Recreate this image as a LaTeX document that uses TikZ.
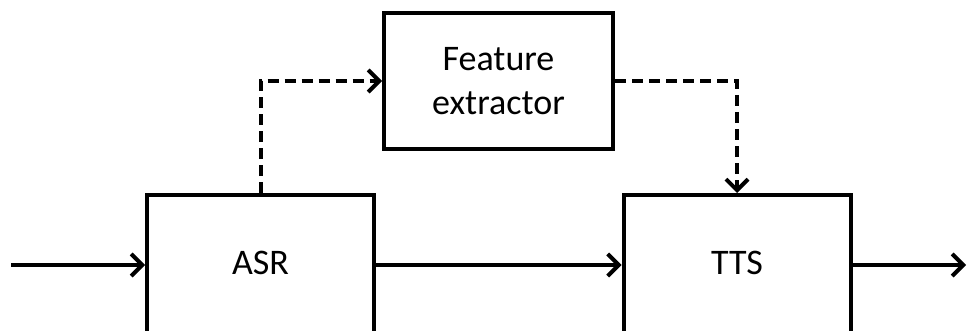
\documentclass[tikz,border=0pt]{standalone}
\usepackage{fontspec}
\setmainfont{Carlito}
\usetikzlibrary{arrows.meta}

\begin{document}
\begin{tikzpicture}[x=1pt, y=1pt,
    block/.style={draw, line width=4pt, minimum width=227pt, minimum height=140pt,
        align=center, font=\fontsize{36}{44}\selectfont},
    flow/.style={line width=4pt, -{Straight Barb[length=11pt, width=22pt]}},
    side/.style={flow, dash pattern=on 11pt off 6pt}]
    \useasboundingbox (0,0) rectangle (967,330);

    \node[block, text depth=4pt] (asr) at (260.5,65) {ASR};
    \node[block, text depth=4pt] (tts) at (737,65) {TTS};
    \node[block, minimum width=229pt, minimum height=136pt] (feat) at (498.5,249) {Feature\\extractor};

    \coordinate (in) at (11,65);
    \coordinate (out) at (966,65);

    % main chain
    \draw[flow] (in) -- (asr.west);
    \draw[flow] (asr.east) -- (tts.west);
    \draw[flow] (tts.east) -- (out);

    % side path through the feature extractor
    \draw[side] (asr.north) |- (feat.west);
    \draw[side] (feat.east) -| (tts.north);
\end{tikzpicture}
\end{document}
